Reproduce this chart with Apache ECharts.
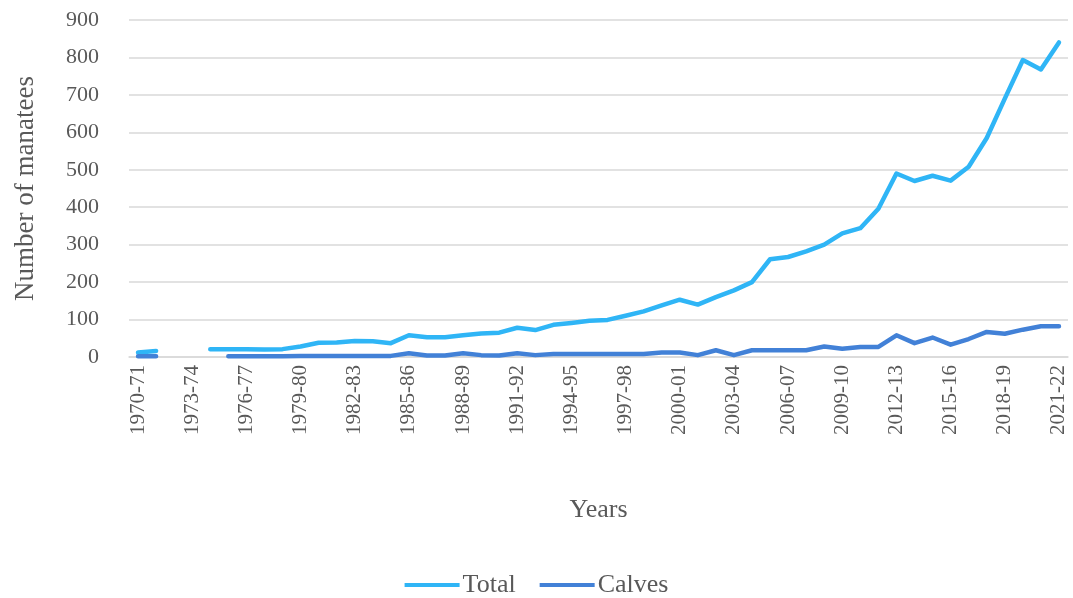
<!DOCTYPE html>
<html>
<head>
<meta charset="utf-8">
<script src="https://cdn.jsdelivr.net/npm/echarts@6/dist/echarts.min.js"></script>
<style>
  html, body { margin: 0; padding: 0; background: #fff; }
  #chart { width: 1073px; height: 598px; }
</style>
</head>
<body>
<div id="chart"></div>
<script>
// Manatee counts by season
const seasons = [
  '1970-71','1971-72','1972-73','1973-74','1974-75','1975-76','1976-77','1977-78','1978-79','1979-80',
  '1980-81','1981-82','1982-83','1983-84','1984-85','1985-86','1986-87','1987-88','1988-89','1989-90',
  '1990-91','1991-92','1992-93','1993-94','1994-95','1995-96','1996-97','1997-98','1998-99','1999-00',
  '2000-01','2001-02','2002-03','2003-04','2004-05','2005-06','2006-07','2007-08','2008-09','2009-10',
  '2010-11','2011-12','2012-13','2013-14','2014-15','2015-16','2016-17','2017-18','2018-19','2019-20',
  '2020-21','2021-22'
];

const totalCounts = [
  12, 16, null, null, 21, 21, 21, 20, 21, 28,
  38, 39, 43, 42, 37, 58, 53, 53, 58, 63,
  65, 78, 72, 86, 91, 97, 99, 110, 122, 138,
  153, 140, 160, 178, 200, 261, 267, 282, 300, 330,
  344, 396, 490, 470, 484, 471, 508, 585, 690, 793,
  768, 840
];

const calfCounts = [
  2, 2, null, null, null, 2, 2, 2, 2, 3,
  3, 3, 3, 3, 3, 10, 4, 4, 10, 5,
  4, 10, 5, 8, 8, 8, 8, 8, 8, 12,
  12, 5, 18, 5, 18, 18, 18, 18, 28, 22,
  27, 27, 58, 37, 52, 33, 48, 67, 62, 73,
  82, 82
];

const yTicks = { min: 0, max: 900, step: 100 };

const textColor = '#595959';
const serif = '"Liberation Serif", "DejaVu Serif", serif';
const totalColor = '#2FB5F6';
const calfColor = '#4281D7';

const chart = echarts.init(document.getElementById('chart'));
chart.setOption({
  animation: false,
  backgroundColor: '#ffffff',
  textStyle: { fontFamily: serif, color: textColor },
  grid: { left: 129, right: 5, top: 20, bottom: 241 },
  legend: {
    top: 567,
    left: 'center',
    icon: 'rect',
    itemWidth: 55,
    itemHeight: 4,
    itemGap: 24,
    textStyle: { fontSize: 26, color: textColor, fontFamily: serif, padding: [0, 0, 0, -2] },
    data: ['Total', 'Calves']
  },
  xAxis: {
    type: 'category',
    data: seasons,
    boundaryGap: true,
    name: 'Years',
    nameLocation: 'middle',
    nameGap: 140,
    nameTextStyle: { fontSize: 26, color: textColor, fontFamily: serif },
    axisLine: { show: true, lineStyle: { color: '#d9d9d9', width: 1.5 } },
    axisTick: { show: false },
    axisLabel: {
      interval: 2,
      rotate: 90,
      fontSize: 21,
      color: textColor,
      fontFamily: serif,
      margin: 8
    }
  },
  yAxis: {
    type: 'value',
    min: yTicks.min,
    max: yTicks.max,
    interval: yTicks.step,
    name: 'Number of manatees',
    nameLocation: 'middle',
    nameRotate: 90,
    nameGap: 90,
    nameTextStyle: { fontSize: 27, color: textColor, fontFamily: serif },
    axisLine: { show: false },
    axisTick: { show: false },
    axisLabel: { fontSize: 22, color: textColor, fontFamily: serif, margin: 30 },
    splitLine: { lineStyle: { color: '#d9d9d9', width: 1.5 } }
  },
  series: [
    {
      name: 'Total',
      type: 'line',
      data: totalCounts,
      symbol: 'none',
      connectNulls: false,
      lineStyle: { color: totalColor, width: 4.5, cap: 'round', join: 'round' },
      itemStyle: { color: totalColor }
    },
    {
      name: 'Calves',
      type: 'line',
      data: calfCounts,
      symbol: 'none',
      connectNulls: false,
      lineStyle: { color: calfColor, width: 4.5, cap: 'round', join: 'round' },
      itemStyle: { color: calfColor }
    }
  ]
});
</script>
</body>
</html>
